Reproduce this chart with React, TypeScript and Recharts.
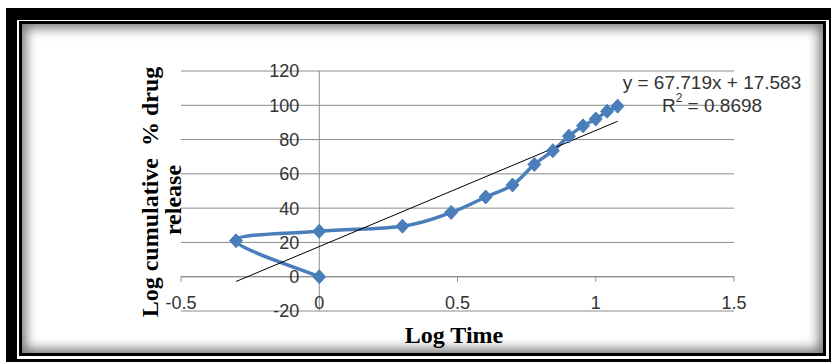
import { CartesianGrid, Line, LineChart, ReferenceDot, ReferenceLine, XAxis, YAxis } from 'recharts'

const logTime = [0, -0.301, 0, 0.301, 0.477, 0.602, 0.699, 0.778, 0.845, 0.903, 0.954, 1.0, 1.041, 1.079]
const cumRelease = [0, 21, 26.5, 29.5, 37.5, 46.5, 53.5, 65.5, 73.5, 82, 88, 92, 96.5, 99.5]

const xTicks = [-0.5, 0, 0.5, 1, 1.5]
const yTicks = [-20, 0, 20, 40, 60, 80, 100, 120]

const slope = 67.719
const intercept = 17.583
const rSquared = 0.8698

const data = logTime.map((x, i) => ({ x, y: cumRelease[i] }))
const xMin = Math.min(...logTime)
const xMax = Math.max(...logTime)
const trend = [
  { x: xMin, y: slope * xMin + intercept },
  { x: xMax, y: slope * xMax + intercept },
]

const BLUE = '#4A7EBB'
const GRID = '#8c8c8c'
const INK = '#333'
const SANS = '"Liberation Sans", Arial, sans-serif'
const SERIF = '"Liberation Serif", "Times New Roman", serif'

// excel-like smoothing: cubic bezier with catmull-rom tangents
const excelSmooth = (context: any) => {
  let pts: number[][] = []
  return {
    areaStart() {},
    areaEnd() {},
    lineStart() {
      pts = []
    },
    point(x: number, y: number) {
      pts.push([+x, +y])
    },
    lineEnd() {
      if (!pts.length) return
      context.moveTo(pts[0][0], pts[0][1])
      for (let i = 0; i < pts.length - 1; i++) {
        const p0 = pts[Math.max(i - 1, 0)]
        const p1 = pts[i]
        const p2 = pts[i + 1]
        const p3 = pts[Math.min(i + 2, pts.length - 1)]
        context.bezierCurveTo(
          p1[0] + (p2[0] - p0[0]) / 6,
          p1[1] + (p2[1] - p0[1]) / 6,
          p2[0] - (p3[0] - p1[0]) / 6,
          p2[1] - (p3[1] - p1[1]) / 6,
          p2[0],
          p2[1],
        )
      }
    },
  }
}

function Diamond(props: any) {
  const { cx, cy } = props
  if (cx == null || cy == null) return null
  return (
    <polygon
      points={`${cx},${cy - 7} ${cx + 6.5},${cy} ${cx},${cy + 7} ${cx - 6.5},${cy}`}
      fill={BLUE}
      stroke={BLUE}
      strokeWidth={1}
    />
  )
}

function XTick(props: any) {
  const { cx, cy } = props
  return <line x1={cx} y1={cy} x2={cx} y2={cy + 5} stroke={GRID} strokeWidth={1} />
}

export default function App() {
  return (
    <div style={{ position: 'absolute', left: 0, top: 0, width: 831, height: 364, background: '#fff', overflow: 'hidden' }}>
      <div style={{ position: 'absolute', left: 6, top: 8, width: 825, height: 354, background: '#000' }} />
      <div style={{ position: 'absolute', left: 17, top: 20, width: 812, height: 339, background: '#fff' }} />
      <div
        style={{
          position: 'absolute',
          left: 19,
          top: 21,
          width: 807,
          height: 335,
          boxSizing: 'border-box',
          border: '3px solid #000',
          background: '#fff',
          boxShadow: 'inset 0 0 12px 4px rgba(0,0,0,0.55)',
        }}
      />
      <div style={{ position: 'absolute', left: 0, top: 0 }}>
        <LineChart width={831} height={364} data={data} margin={{ top: 71, right: 97, bottom: 53, left: 181 }}>
          <XAxis type="number" dataKey="x" domain={[-0.5, 1.5]} ticks={xTicks} hide />
          <YAxis type="number" domain={[-20, 120]} ticks={yTicks} hide />
          <CartesianGrid vertical={false} horizontalValues={yTicks} stroke={GRID} strokeWidth={1} />
          <ReferenceLine x={0} stroke={GRID} strokeWidth={1} />
          <ReferenceLine y={0} stroke={GRID} strokeWidth={1} />
          {xTicks.map((t) => (
            <ReferenceDot
              key={`xt${t}`}
              x={t}
              y={0}
              r={0}
              ifOverflow="visible"
              shape={XTick}
              label={{ value: String(t), position: 'bottom', offset: 20, fill: INK, fontSize: 18, fontFamily: SANS }}
            />
          ))}
          {yTicks.map((t) => (
            <ReferenceDot
              key={`yt${t}`}
              x={0}
              y={t}
              r={0}
              fill="none"
              stroke="none"
              ifOverflow="visible"
              label={{ value: String(t), position: 'left', offset: 20, fill: INK, fontSize: 18, fontFamily: SANS }}
            />
          ))}
          <Line
            dataKey="y"
            type={excelSmooth as any}
            stroke={BLUE}
            strokeWidth={3.5}
            dot={(p: any) => <Diamond key={`d${p.index}`} {...p} />}
            activeDot={false}
            isAnimationActive={false}
          />
          <ReferenceLine segment={trend} stroke="#000" strokeWidth={1} ifOverflow="visible" />
        </LineChart>
      </div>
      <svg width={831} height={364} style={{ position: 'absolute', left: 0, top: 0, pointerEvents: 'none' }}>
        <text x={712} y={82} textAnchor="middle" dominantBaseline="central" fontFamily={SANS} fontSize={19} fill={INK}>
          {`y = ${slope}x + ${intercept}`}
        </text>
        <text x={712} y={105} textAnchor="middle" dominantBaseline="central" fontFamily={SANS} fontSize={19} fill={INK}>
          R<tspan dy={-7} fontSize={12}>2</tspan>
          <tspan dy={7}>{` = ${rSquared}`}</tspan>
        </text>
        <text x={454} y={335} textAnchor="middle" dominantBaseline="central" fontFamily={SERIF} fontWeight="bold" fontSize={24} fill="#000">
          Log Time
        </text>
        <text
          x={150}
          y={192}
          transform="rotate(-90 150 192)"
          textAnchor="middle"
          dominantBaseline="central"
          fontFamily={SERIF}
          fontWeight="bold"
          fontSize={24}
          fill="#000"
          style={{ whiteSpace: 'pre' }}
        >
          {'Log cumulative  % drug'}
        </text>
        <text
          x={173}
          y={200}
          transform="rotate(-90 173 200)"
          textAnchor="middle"
          dominantBaseline="central"
          fontFamily={SERIF}
          fontWeight="bold"
          fontSize={24}
          fill="#000"
        >
          release
        </text>
      </svg>
    </div>
  )
}
